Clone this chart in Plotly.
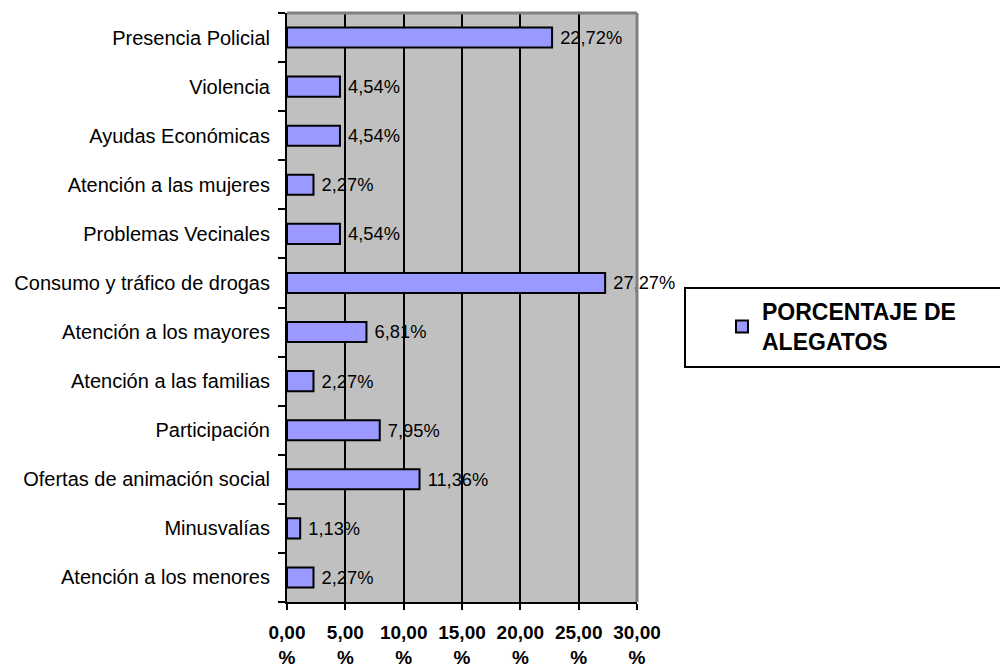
import plotly.graph_objects as go

categories = [
    "Atención a los menores",
    "Minusvalías",
    "Ofertas de animación social",
    "Participación",
    "Atención a las familias",
    "Atención a los mayores",
    "Consumo y tráfico de drogas",
    "Problemas Vecinales",
    "Atención a las mujeres",
    "Ayudas Económicas",
    "Violencia",
    "Presencia Policial",
]
values = [2.27, 1.13, 11.36, 7.95, 2.27, 6.81, 27.27, 4.54, 2.27, 4.54, 4.54, 22.72]
tick_vals = [0, 5, 10, 15, 20, 25, 30]
tick_text = ["0,00<br>%", "5,00<br>%", "10,00<br>%", "15,00<br>%", "20,00<br>%", "25,00<br>%", "30,00<br>%"]
series_name = "PORCENTAJE DE<br>ALEGATOS"

FONT = "Liberation Sans, Arial, sans-serif"

fig = go.Figure()
fig.add_trace(go.Bar(
    y=categories,
    x=values,
    orientation="h",
    name=series_name,
    marker=dict(color="#9999FF", line=dict(color="black", width=2)),
    texttemplate=" %{x:.2f}%",
    textposition="outside",
    textfont=dict(family=FONT, size=20, color="black"),
    cliponaxis=False,
    showlegend=True,
))

# page is offset by the body margin (8px)
OFF = 8
W, H = 1008 - OFF, 666 - OFF
L, R, T, B = 287, 637, 13, 602  # target page coords of plot area
pw, ph = R - L, B - T

def px(xp):
    return (xp - L) / pw

def py(yp):
    return (B - yp) / ph

fig.update_layout(
    width=W, height=H,
    margin=dict(l=L - OFF, r=W - (R - OFF), t=T - OFF, b=H - (B - OFF), pad=0,
                autoexpand=False),
    paper_bgcolor="white",
    plot_bgcolor="#C0C0C0",
    separators=",.",
    bargap=0.59,
    font=dict(family=FONT, color="black"),
    showlegend=True,
    legend=dict(
        x=px(722), y=py(290), xanchor="left", yanchor="top",
        bgcolor="rgba(0,0,0,0)", borderwidth=0,
        font=dict(family=FONT, size=23, color="black", weight="bold"),
    ),
    xaxis=dict(
        range=[0, 30],
        tickvals=tick_vals,
        ticktext=tick_text,
        tickfont=dict(family=FONT, size=19, color="black", weight="bold"),
        showgrid=True, gridcolor="black", gridwidth=2,
        showline=True, linecolor="black", linewidth=2,
        ticks="outside", ticklen=6, tickwidth=2, tickcolor="black",
        ticklabelstandoff=6,
        automargin=False,
        zeroline=False, fixedrange=True,
    ),
    yaxis=dict(
        tickfont=dict(family=FONT, size=20, color="black"),
        showgrid=False,
        showline=True, linecolor="black", linewidth=2,
        ticks="outside", ticklen=7, tickwidth=2, tickcolor="black",
        tickson="boundaries",
        ticklabelstandoff=11,
        automargin=False,
        fixedrange=True,
    ),
    shapes=[
        dict(type="line", xref="paper", yref="paper", x0=0, x1=1, y0=1, y1=1,
             line=dict(color="#808080", width=3)),
        dict(type="line", xref="paper", yref="paper", x0=1, x1=1, y0=0, y1=1,
             line=dict(color="#808080", width=3)),
        dict(type="rect", xref="paper", yref="paper",
             x0=px(685), x1=px(1006), y0=py(367), y1=py(288),
             line=dict(color="black", width=2), fillcolor="rgba(0,0,0,0)"),
    ],
)

fig.write_html("out.html")
